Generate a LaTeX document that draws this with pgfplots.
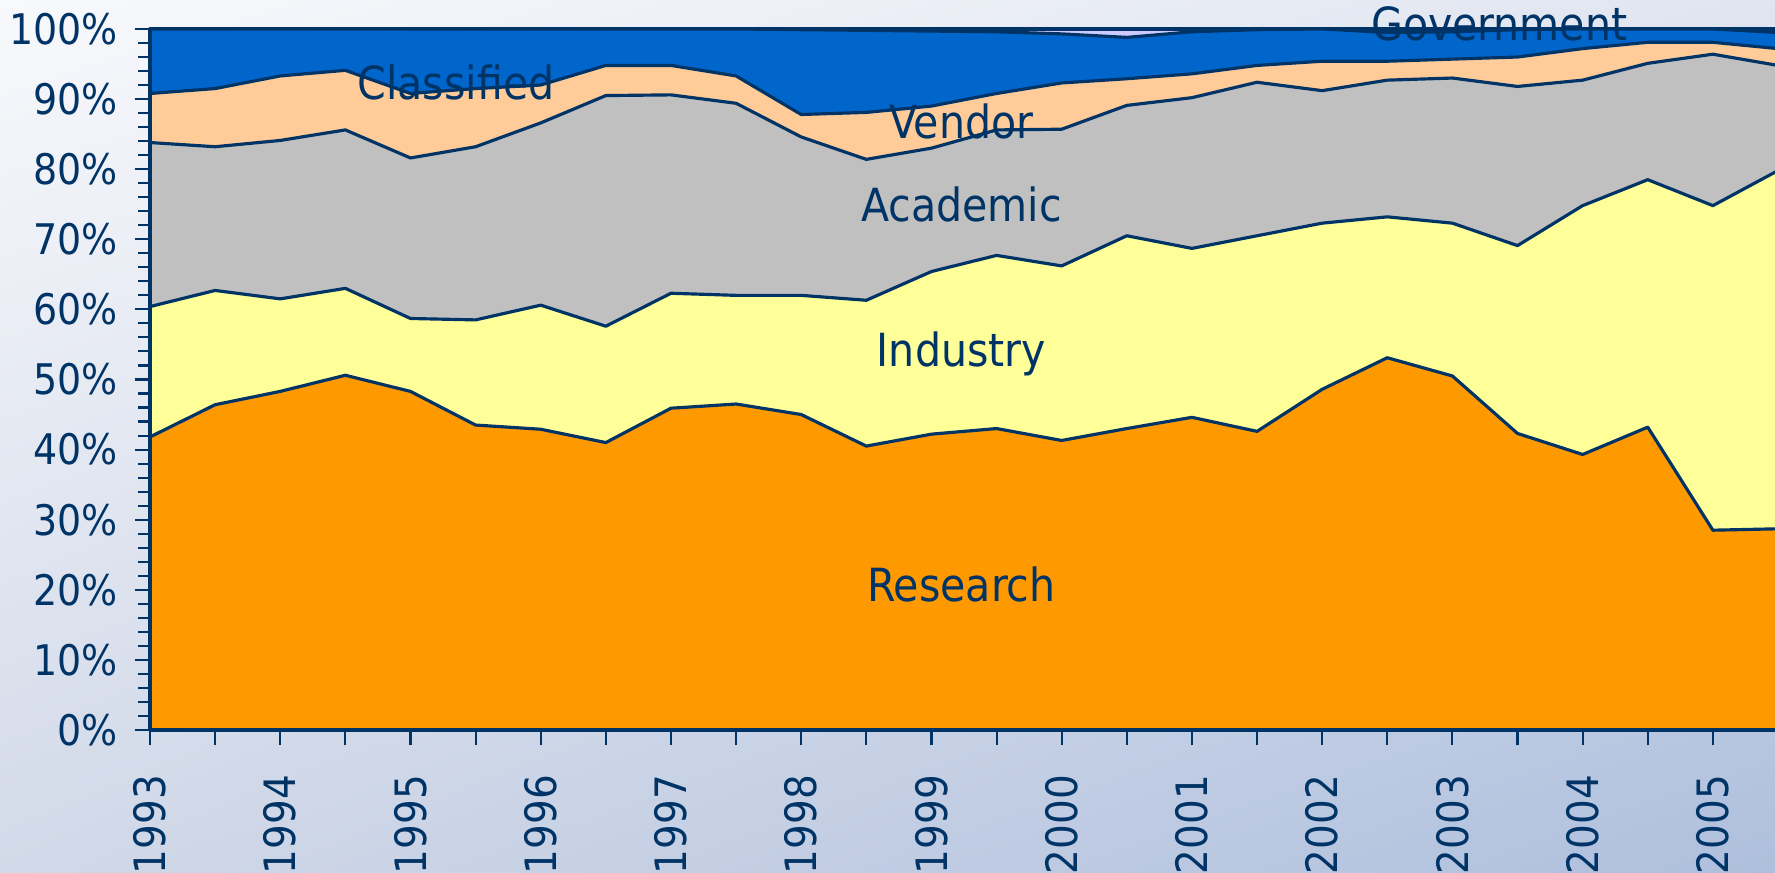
\documentclass[border=0pt]{standalone}
\usepackage{fontspec}
\setmainfont{DejaVu Sans}
\newfontfamily\condfont{DejaVu Sans Condensed}
\usepackage{pgfplots}
\pgfplotsset{compat=1.18}
\usepackage{pgfplotstable}
\usetikzlibrary{shadings}
\definecolor{navy}{HTML}{003366}
\definecolor{resc}{HTML}{FF9900}
\definecolor{indc}{HTML}{FFFF99}
\definecolor{acac}{HTML}{C0C0C0}
\definecolor{venc}{HTML}{FFCC99}
\definecolor{clac}{HTML}{0066CC}
\definecolor{govc}{HTML}{CCCCFF}
\definecolor{bgA}{HTML}{F8F9FC}
\definecolor{bgB}{HTML}{E0E5F0}
\definecolor{bgC}{HTML}{D2D9E8}
\definecolor{bgD}{HTML}{AEBFDD}

% cumulative tops of each band (percent)
\pgfplotstableread{
year   res  ind  aca  ven  cla   top
1993.0 41.8 60.4 83.8 90.8 100.0 100
1993.5 46.4 62.7 83.2 91.5 100.0 100
1994.0 48.3 61.5 84.1 93.3 100.0 100
1994.5 50.6 63.0 85.6 94.1 100.0 100
1995.0 48.3 58.7 81.6 90.8 100.0 100
1995.5 43.5 58.5 83.2 91.5 100.0 100
1996.0 42.9 60.6 86.6 92.0 100.0 100
1996.5 41.0 57.6 90.5 94.8 100.0 100
1997.0 45.9 62.3 90.6 94.8 100.0 100
1997.5 46.5 62.0 89.4 93.3 100.0 100
1998.0 45.0 62.0 84.6 87.8 99.9  100
1998.5 40.5 61.3 81.4 88.1 99.8  100
1999.0 42.2 65.4 83.0 89.0 99.7  100
1999.5 43.0 67.7 85.6 90.8 99.6  100
2000.0 41.3 66.2 85.7 92.3 99.3  100
2000.5 43.0 70.5 89.1 92.9 98.8  100
2001.0 44.6 68.7 90.2 93.6 99.6  100
2001.5 42.6 70.5 92.4 94.8 99.9  100
2002.0 48.6 72.3 91.2 95.4 100.0 100
2002.5 53.1 73.2 92.7 95.4 99.5  100
2003.0 50.5 72.3 93.0 95.7 99.6  100
2003.5 42.3 69.1 91.8 96.0 99.9  100
2004.0 39.3 74.8 92.7 97.2 100.0 100
2004.5 43.2 78.5 95.1 98.1 100.0 100
2005.0 28.5 74.8 96.4 98.1 100.0 100
2005.5 28.7 79.8 94.8 97.2 99.5  100
}\shares

\begin{document}
\begin{tikzpicture}
\useasboundingbox (0,0) rectangle (17.75,8.73);
\shade[upper left=bgA, upper right=bgB, lower left=bgC, lower right=bgD]
  (0,0) rectangle (17.75,8.73);
\begin{axis}[
  at={(1.5cm,1.43cm)}, anchor=south west,
  scale only axis,
  width=16.28cm, height=7.01cm,
  xmin=1993, xmax=2005.5,
  ymin=0, ymax=100,
  clip=false,
  axis on top,
  axis line style={navy, line width=0.9pt},
  axis x line*=bottom, axis y line*=left,
  tick align=outside,
  tick style={navy, line width=0.6pt},
  major tick length=0.155cm,
  minor tick length=0.12cm,
  xtick={1993,1993.5,...,2005.5},
  xticklabels={1993,,1994,,1995,,1996,,1997,,1998,,1999,,2000,,2001,,2002,,2003,,2004,,2005,},
  xticklabel style={rotate=90, anchor=east, inner sep=0pt, xshift=-0.29cm,
    font=\condfont\fontsize{12.3}{14}\selectfont, text=navy},
  ytick={0,10,...,100},
  yticklabels={0\%,10\%,20\%,30\%,40\%,50\%,60\%,70\%,80\%,90\%,100\%},
  minor y tick num=4,
  yticklabel style={anchor=east, inner sep=0pt, xshift=-0.16cm,
    font=\condfont\fontsize{12}{14}\selectfont, text=navy},
  every axis plot/.append style={draw=navy, line width=0.9pt, line join=round},
]
\addplot[fill=govc] table[x=year, y=top] {\shares} \closedcycle;
\addplot[fill=clac] table[x=year, y=cla] {\shares} \closedcycle;
\addplot[fill=venc] table[x=year, y=ven] {\shares} \closedcycle;
\addplot[fill=acac] table[x=year, y=aca] {\shares} \closedcycle;
\addplot[fill=indc] table[x=year, y=ind] {\shares} \closedcycle;
\addplot[fill=resc] table[x=year, y=res] {\shares} \closedcycle;

\begin{scope}[every node/.style={font=\condfont\fontsize{13}{15}\selectfont, text=navy}]
\node at (axis cs:1995.35,92.4) {Classified};
\node at (axis cs:1999.23,86.8) {Vendor};
\node at (axis cs:1999.23,74.9) {Academic};
\node at (axis cs:1999.23,53.7) {Industry};
\node at (axis cs:1999.23,20.8) {Research};
\node at (axis cs:2003.36,100.8) {Government};
\end{scope}
\end{axis}
\end{tikzpicture}
\end{document}
